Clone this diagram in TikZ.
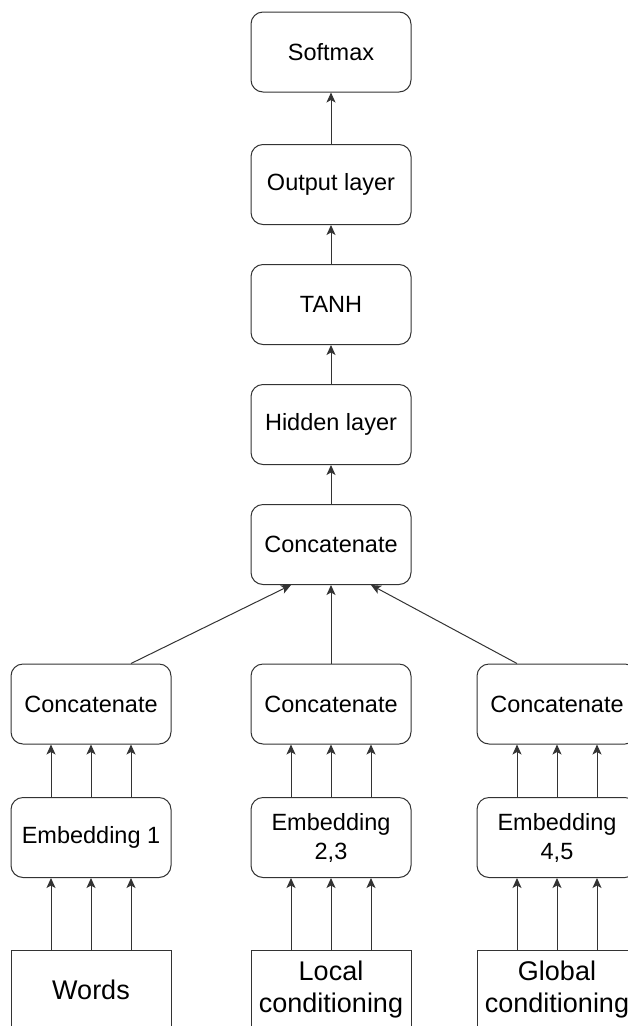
\documentclass[tikz,border=0pt]{standalone}
\usepackage{fontspec}
\setmainfont{Liberation Sans}
\usetikzlibrary{positioning}
\usetikzlibrary{arrows.meta}
\definecolor{edge}{rgb}{0.2,0.2,0.2}

\begin{document}
\begin{tikzpicture}[%
  x=1pt, y=-1pt,
  layer/.style={draw=edge, line width=1pt, rounded corners=12pt,
    minimum width=160pt, minimum height=80pt, inner sep=0pt,
    align=center, font=\fontsize{23.5}{29}\selectfont},
  source/.style={layer, rounded corners=0pt, font=\fontsize{27}{32}\selectfont},
  flow/.style={draw=edge, line width=1pt, -{Stealth[length=10pt,width=9pt,inset=2.5pt]}},
]

  \useasboundingbox (0,0) rectangle (628,1026);
  \clip (0,0) rectangle (628,1026);

  % main stack
  \node[layer] (softmax) at (331,52) {Softmax};
  \node[layer] (output)  at (331,184.5) {Output layer};
  \node[layer] (tanh)    at (331,304.5) {TANH};
  \node[layer] (hidden)  at (331,424.5) {Hidden layer};
  \node[layer] (concat)  at (331,544.5) {Concatenate};

  % three branches
  \node[layer] (catA) at (91,704)  {Concatenate};
  \node[layer] (catB) at (331,704) {Concatenate};
  \node[layer] (catC) at (557,704) {Concatenate};

  \node[layer] (embA) at (91,837.5)  {Embedding 1};
  \node[layer] (embB) at (331,837.5) {Embedding\\2,3};
  \node[layer] (embC) at (557,837.5) {Embedding\\4,5};

  \node[source] (words)  at (91,990)  {Words};
  \node[source] (local)  at (331,990) {Local\\conditioning};
  \node[source] (global) at (557,990) {Global\\conditioning};

  \draw[flow] (output) -- (softmax);
  \draw[flow] (tanh) -- (output);
  \draw[flow] (hidden) -- (tanh);
  \draw[flow] (concat) -- (hidden);

  \draw[flow] ([xshift=40pt]catA.north) -- ([xshift=-40pt]concat.south);
  \draw[flow] (catB) -- (concat);
  \draw[flow] ([xshift=-40pt]catC.north) -- ([xshift=40pt]concat.south);

  \foreach \dx in {-40,0,40} {
    \draw[flow] ([xshift=\dx pt]embA.north) -- ([xshift=\dx pt]catA.south);
    \draw[flow] ([xshift=\dx pt]embB.north) -- ([xshift=\dx pt]catB.south);
    \draw[flow] ([xshift=\dx pt]embC.north) -- ([xshift=\dx pt]catC.south);
    \draw[flow] ([xshift=\dx pt]words.north) -- ([xshift=\dx pt]embA.south);
    \draw[flow] ([xshift=\dx pt]local.north) -- ([xshift=\dx pt]embB.south);
    \draw[flow] ([xshift=\dx pt]global.north) -- ([xshift=\dx pt]embC.south);
  }

\end{tikzpicture}
\end{document}
